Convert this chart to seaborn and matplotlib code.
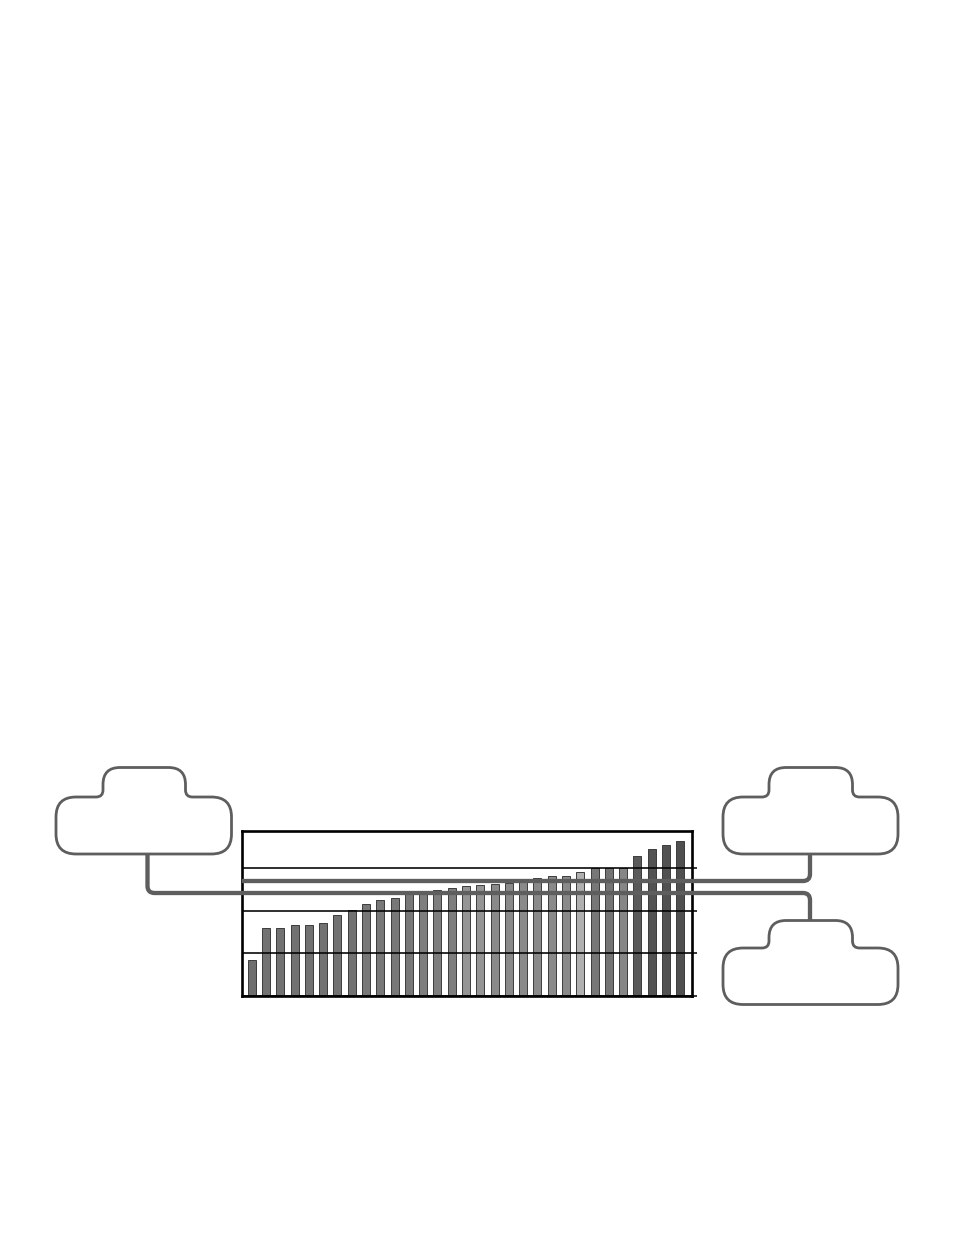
import numpy as np
import pandas as pd
import matplotlib
matplotlib.use("Agg")
import matplotlib.pyplot as plt
from matplotlib.path import Path
from matplotlib.patches import PathPatch
import seaborn as sns

# bar data (grid step = 1 unit)
bars = [f"B{i}" for i in range(1, 32)]
values = [0.85, 1.59, 1.59, 1.68, 1.68, 1.71, 1.90, 2.02, 2.16, 2.26,
          2.30, 2.42, 2.46, 2.49, 2.53, 2.58, 2.60, 2.64, 2.66, 2.72,
          2.77, 2.82, 2.82, 2.91, 3.00, 3.00, 3.00, 3.29, 3.46, 3.55, 3.65]
bar_colors = ["#6e6e6e"] + ["#727272"] * 7 + ["#787878"] * 4 + ["#7e7e7e"] * 3 \
    + ["#959595"] * 2 + ["#8a8a8a"] * 6 + ["#b0b0b0"] + ["#777777", "#747474", "#868686"] \
    + ["#5a5a5a", "#535353", "#515151", "#4f4f4f"]
grid_levels = [0, 1, 2, 3]

df = pd.DataFrame({"bar": bars, "value": values})

sns.set_style("white")
fig = plt.figure(figsize=(9.54, 12.35), dpi=100)

W, H = 954, 1235
ax = fig.add_axes([242 / W, (H - 996) / H, 449.7 / W, 165 / H])
sns.barplot(data=df, x="bar", y="value", hue="bar", palette=bar_colors,
            legend=False, width=0.56, edgecolor="#3c3c3c", linewidth=0.7,
            saturation=1, ax=ax)
ax.set_xlim(-0.68, 30.8)
ax.set_ylim(0, 3.88)
ax.set_xticks([])
ax.yaxis.tick_right()
ax.set_yticks(grid_levels)
ax.tick_params(axis="y", right=True, length=3.8, width=1.1, color="black",
               labelright=False, labelleft=False, direction="out")
ax.set_axisbelow(False)
ax.grid(axis="y", color="black", linewidth=1.15)
ax.set_xlabel("")
ax.set_ylabel("")
for s in ax.spines.values():
    s.set_visible(True)
    s.set_color("black")
    s.set_linewidth(1.9)


def rounded_path(points, radii, closed=True):
    pts = np.array(points, float)
    n = len(pts)
    verts, codes = [], []
    for i in range(n):
        p = pts[i]
        r = radii[i]
        if not closed and (i == 0 or i == n - 1) or r == 0:
            verts.append(p)
            codes.append(Path.MOVETO if i == 0 else Path.LINETO)
            continue
        a = pts[i - 1]
        b = pts[(i + 1) % n]
        da = (a - p) / np.linalg.norm(a - p)
        db = (b - p) / np.linalg.norm(b - p)
        verts += [p + r * da, p, p + r * db]
        codes += [Path.MOVETO if i == 0 else Path.LINETO, Path.CURVE3, Path.CURVE3]
    if closed:
        verts.append(verts[0])
        codes.append(Path.CLOSEPOLY)
    return Path(verts, codes)


def cloud(x0, x1, yt, yb, bx0, bx1, by):
    pts = [(x0, yb), (x0, yt), (bx0, yt), (bx0, by),
           (bx1, by), (bx1, yt), (x1, yt), (x1, yb)]
    rad = [20, 20, 7, 17, 17, 7, 20, 20]
    return rounded_path(pts, rad)


# overlay in pixel coordinates for the clouds and connectors
ov = fig.add_axes([0, 0, 1, 1], zorder=5)
ov.set_xlim(0, W)
ov.set_ylim(H, 0)
ov.axis("off")
ov.patch.set_alpha(0)

line_col = "#5e5e5e"
clouds = [
    (56, 231.5, 797, 854, 103, 185.5, 767.5),
    (723, 898, 797, 854, 769, 852.5, 767.5),
    (723, 898, 948, 1004.5, 769, 852.5, 920.5),
]
for c in clouds:
    ov.add_patch(PathPatch(cloud(*c), facecolor="white", edgecolor=line_col,
                           linewidth=2.0))

upper = rounded_path([(242, 881), (810, 881), (810, 854)], [0, 7, 0], closed=False)
lower = rounded_path([(147.5, 854), (147.5, 893), (810, 893), (810, 920.5)],
                     [0, 7, 7, 0], closed=False)
for p in (upper, lower):
    ov.add_patch(PathPatch(p, facecolor="none", edgecolor=line_col,
                           linewidth=3.1, capstyle="butt", joinstyle="round"))

fig.savefig("out.png", dpi=100)
